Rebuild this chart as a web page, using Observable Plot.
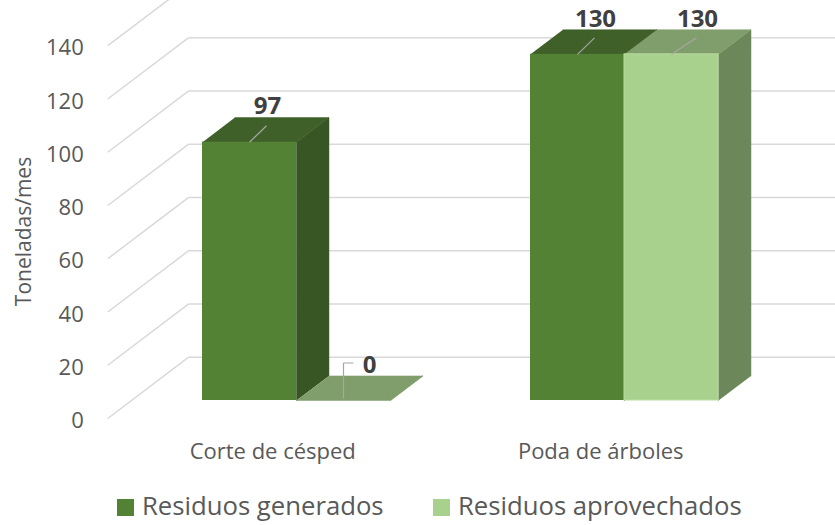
<!DOCTYPE html>
<html>
<head>
<meta charset="utf-8">
<script src="https://cdn.jsdelivr.net/npm/d3@7"></script>
<script src="https://cdn.jsdelivr.net/npm/@observablehq/plot@0.6"></script>
<style>
  html, body { margin: 0; padding: 0; background: #fff; overflow: hidden; }
  body { font-family: "Open Sans", sans-serif; width: 835px; height: 525px; }
  #chart svg { display: block; overflow: hidden; }
  #legend { position: relative; height: 38px; }
  #legend .sw { position: absolute; top: 12px; width: 17px; height: 17px; }
  #legend .lt { position: absolute; top: 0; height: 38px; line-height: 38px; font-size: 25.7px; color: #595959; white-space: nowrap; }
</style>
</head>
<body>
<div id="chart"></div>
<div id="legend"></div>
<script>
// ---- data ----
const categories = ["Corte de césped", "Poda de árboles"];
const series = ["Residuos generados", "Residuos aprovechados"];
const generados = [97, 130];
const aprovechados = [0, 130];
const yTicks = [0, 20, 40, 60, 80, 100, 120, 140];
const yTitle = "Toneladas/mes";

// ---- styles ----
const frontColors = ["#548235", "#A9D18E"];
const topColors   = ["#3F6129", "#809E6B"];
const sideColors  = ["#375623", "#6C875A"];
const gridColor = "#D9D9D9";

// ---- 3D geometry (pixels / scale units) ----
const W = 835, H = 487;
const PXX = 328;          // px per category unit
const PXY = 2.6627;       // px per tonne
const K = 1.32;           // depth slant (dx per dy)
const BW = 94 / PXX;      // bar width in category units
const DEPTH = 24.6;       // bar depth (px)
const WALL_X = -0.503;    // left wall in category units
const FLOOR_FRONT = -18;  // floor front depth (px)
const WALL_BACK = 43.3;   // back wall depth (px)
const X_RIGHT = 2.2;

// offset a data point by pixel amounts
const Q = (xu, v, dxPx, dyPx) => ({x: xu + dxPx / PXX, y: v - dyPx / PXY});
// project a data point to a depth (px)
const P = (xu, v, d) => Q(xu, v, K * d, -d);

const vals = [generados, aprovechados];
const bars = [];
categories.forEach((c, i) => {
  series.forEach((s, j) => {
    const v = vals[j][i];
    bars.push({cat: c, ser: s, i, j, v, x1: i + (j - 1) * BW, x2: i + j * BW});
  });
});

// faces as polygons
const tops = [], sides = [];
bars.forEach((b, k) => {
  [P(b.x1, b.v, 0), P(b.x2, b.v, 0), P(b.x2, b.v, DEPTH), P(b.x1, b.v, DEPTH)]
    .forEach(p => tops.push({...p, id: k, j: b.j}));
  [P(b.x2, 0, 0), P(b.x2, b.v, 0), P(b.x2, b.v, DEPTH), P(b.x2, 0, DEPTH)]
    .forEach(p => sides.push({...p, id: k, j: b.j}));
});

// gridlines
const diag = yTicks.map(t => {
  const a = P(WALL_X, t, FLOOR_FRONT), b = P(WALL_X, t, WALL_BACK);
  return {x1: a.x, y1: a.y, x2: b.x, y2: b.y};
});
const back = yTicks.map(t => {
  const a = P(WALL_X, t, WALL_BACK), b = P(X_RIGHT, t, WALL_BACK);
  return {x1: a.x, y1: a.y, x2: b.x, y2: b.y};
});
const tickLbl = yTicks.map(t => ({...P(WALL_X, t, FLOOR_FRONT), t}));
const catLbl = categories.map((c, i) => ({...P(i, 0, FLOOR_FRONT), c}));

// data labels and leaders
const lblDx = [18, 26], lblDy = -35.5;
const labels = [], leaders = [], elbows = [];
bars.forEach((b, k) => {
  const cx = (b.x1 + b.x2) / 2;
  const L = Q(cx, b.v, lblDx[b.j], lblDy);
  labels.push({...L, text: String(b.v)});
  if (b.v > 0) {
    const e = Q(cx, b.v, lblDx[b.j] - 1, lblDy + 19);
    leaders.push({x1: cx, y1: b.v, x2: e.x, y2: e.y});
  } else {
    const s = Q(cx, b.v, 0, -2);
    const m = Q(cx, b.v, 0, lblDy - 2);
    const e = Q(cx, b.v, lblDx[b.j] - 16, lblDy - 2);
    [s, m, e].forEach(p => elbows.push({...p, id: k}));
  }
});

const marks = [
  Plot.link(diag, {x1: "x1", y1: "y1", x2: "x2", y2: "y2", stroke: gridColor, strokeWidth: 1.5}),
  Plot.link(back, {x1: "x1", y1: "y1", x2: "x2", y2: "y2", stroke: gridColor, strokeWidth: 1.5}),
];
[0, 1].forEach(j => {
  marks.push(Plot.line(sides.filter(d => d.j === j), {x: "x", y: "y", z: "id", fill: sideColors[j], stroke: sideColors[j], strokeWidth: 0.5}));
});
[0, 1].forEach(j => {
  marks.push(Plot.line(tops.filter(d => d.j === j), {x: "x", y: "y", z: "id", fill: topColors[j], stroke: topColors[j], strokeWidth: 0.5}));
});
marks.push(Plot.rect(bars.filter(b => b.j === 0), {x1: "x1", x2: "x2", y1: 0, y2: "v", fill: frontColors[0]}));
marks.push(Plot.rect(bars.filter(b => b.j === 1), {x1: "x1", x2: "x2", y1: 0, y2: "v", fill: frontColors[1], stroke: "#B9DBA2", strokeWidth: 1}));
marks.push(
  Plot.link(leaders, {x1: "x1", y1: "y1", x2: "x2", y2: "y2", stroke: "#A6A6A6", strokeWidth: 1.2}),
  Plot.line(elbows, {x: "x", y: "y", z: "id", stroke: "#A6A6A6", strokeWidth: 1.2, strokeLinecap: "butt", strokeLinejoin: "miter"}),
  Plot.text(labels, {x: "x", y: "y", text: "text", fontSize: 24, fontWeight: "bold", fill: "#404040"}),
  Plot.text(tickLbl, {x: "x", y: "y", text: d => String(d.t), textAnchor: "end", dx: -24, dy: 2.5, fontSize: 22, fill: "#595959"}),
  Plot.text(catLbl, {x: "x", y: "y", text: "c", dy: 33.4, fontSize: 22, fill: "#595959"}),
  Plot.text([yTitle], {frameAnchor: "left", textAnchor: "middle", rotate: -90, dx: 24, fontSize: 21, fill: "#595959"})
);

const chart = Plot.plot({
  width: W, height: H,
  marginLeft: 0, marginRight: 0, marginTop: 0, marginBottom: 25,
  style: {fontFamily: "Open Sans", background: "#fff", overflow: "hidden"},
  x: {type: "linear", domain: [0, 1], range: [296, 624], axis: null},
  y: {type: "linear", domain: [0, 140], range: [400, 400 - 140 * PXY], axis: null},
  marks
});
document.getElementById("chart").appendChild(chart);

// legend
const leg = document.getElementById("legend");
const legX = [117, 433];
series.forEach((s, j) => {
  const sw = document.createElement("span");
  sw.className = "sw"; sw.style.left = legX[j] + "px"; sw.style.background = frontColors[j];
  const t = document.createElement("span");
  t.className = "lt"; t.style.left = (legX[j] + 25) + "px"; t.textContent = s;
  leg.appendChild(sw); leg.appendChild(t);
});
</script>
</body>
</html>
